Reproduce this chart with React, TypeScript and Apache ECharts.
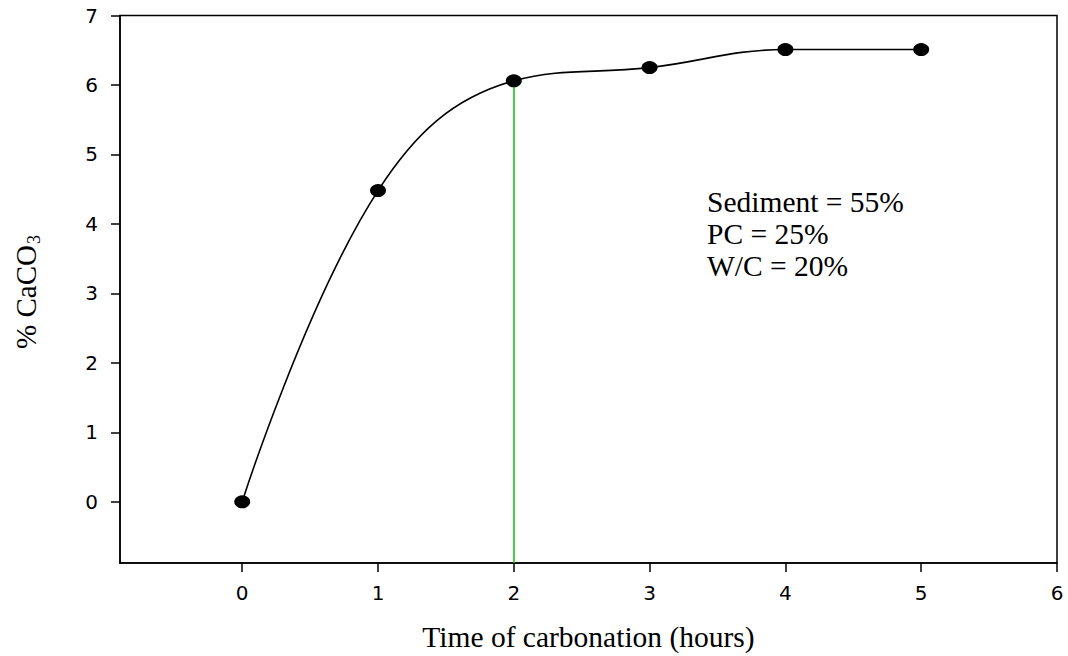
import React, { useEffect, useRef } from "react";
import * as echarts from "echarts";

const hours = [0, 1, 2, 3, 4, 5];
const caco3 = [0, 4.48, 6.06, 6.25, 6.51, 6.51];
const xTicks = [0, 1, 2, 3, 4, 5, 6];
const yTicks = [0, 1, 2, 3, 4, 5, 6, 7];
const markerHour = 2;
const markerValue = 6.06;
const noteLines = ["Sediment = 55%", "PC = 25%", "W/C = 20%"];

const X_MIN = -0.9;
const X_MAX = 6;
const Y_MIN = -0.88;
const Y_MAX = 7;

export default function App() {
  const ref = useRef<HTMLDivElement>(null);
  useEffect(() => {
    if (!ref.current) return;
    const chart = echarts.init(ref.current, null, { renderer: "svg" });
    const tickFont = { fontFamily: "DejaVu Sans", fontSize: 20, color: "#000" };
    chart.setOption({
      animation: false,
      backgroundColor: "#fff",
      grid: {
        left: 120,
        right: 11,
        top: 15.5,
        bottom: 93,
        show: true,
        borderColor: "#000",
        borderWidth: 1.5,
        containLabel: false,
        outerBoundsMode: "none",
      },
      xAxis: {
        type: "value",
        min: X_MIN,
        max: X_MAX,
        splitLine: { show: false },
        axisLine: { show: true, onZero: false, lineStyle: { color: "#000", width: 1.5 } },
        axisTick: {
          show: true,
          length: 9,
          customValues: xTicks,
          lineStyle: { color: "#000", width: 1.5 },
        },
        axisLabel: { ...tickFont, margin: 20, customValues: xTicks },
        name: "Time of carbonation (hours)",
        nameLocation: "middle",
        nameGap: 59,
        nameTextStyle: { fontFamily: "Liberation Serif", fontSize: 29.5, color: "#000" },
      },
      yAxis: {
        type: "value",
        min: Y_MIN,
        max: Y_MAX,
        splitLine: { show: false },
        axisLine: { show: true, onZero: false, lineStyle: { color: "#000", width: 1.5 } },
        axisTick: {
          show: true,
          length: 9,
          customValues: yTicks,
          lineStyle: { color: "#000", width: 1.5 },
        },
        axisLabel: { ...tickFont, margin: 22, customValues: yTicks },
      },
      graphic: [
        {
          type: "text",
          x: 26,
          y: 292,
          rotation: Math.PI / 2,
          style: {
            text: "{m|% CaCO}{s|3}",
            align: "center",
            verticalAlign: "middle",
            rich: {
              m: { fontFamily: "Liberation Serif", fontSize: 29, fill: "#000", lineHeight: 34 },
              s: {
                fontFamily: "Liberation Serif",
                fontSize: 18,
                fill: "#000",
                lineHeight: 34,
                padding: [16, 0, 0, 1],
              },
            },
          },
        },
        ...noteLines.map((t, i) => ({
          type: "text",
          left: 707,
          top: 187 + i * 32,
          style: {
            text: t,
            fontFamily: "Liberation Serif",
            fontSize: 29.5,
            fill: "#000",
          },
        })),
      ],
      series: [
        {
          type: "line",
          data: hours.map((h, i) => [h, caco3[i]]),
          smooth: 0.4,
          symbol: "circle",
          symbolSize: [16, 13],
          itemStyle: { color: "#000" },
          lineStyle: { color: "#000", width: 1.6 },
          z: 3,
          markLine: {
            silent: true,
            symbol: "none",
            label: { show: false },
            lineStyle: { color: "#22c322", width: 1.6, type: "solid" },
            data: [
              [
                { coord: [markerHour, Y_MIN] },
                { coord: [markerHour, markerValue] },
              ],
            ],
            z: 2,
          },
        },
      ],
    });
    return () => chart.dispose();
  }, []);
  return (
    <div
      ref={ref}
      style={{ position: "absolute", left: 0, top: 0, width: 1068, height: 656 }}
    />
  );
}
